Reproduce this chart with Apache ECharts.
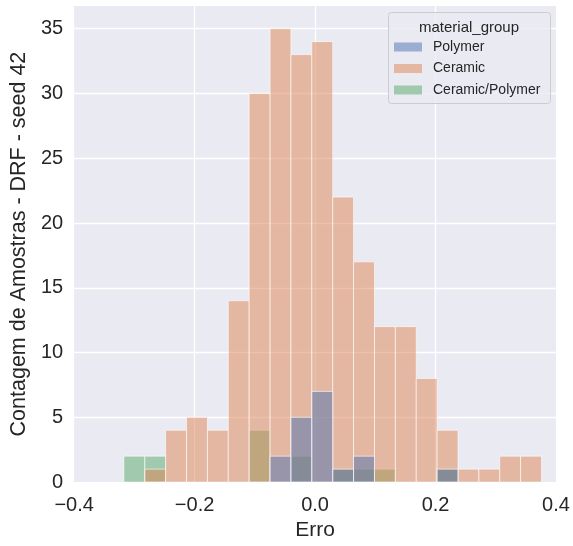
<!DOCTYPE html>
<html>
<head>
<meta charset="utf-8">
<script src="https://cdn.jsdelivr.net/npm/echarts@6/dist/echarts.min.js"></script>
<style>
  html, body { margin: 0; padding: 0; background: #fff; }
  #main { width: 573px; height: 546px; }
</style>
</head>
<body>
<div id="main"></div>
<script>
var myChart = echarts.init(document.getElementById('main'));

// bin edges (Erro), 20 bins
var binEdges = [-0.3174, -0.2827, -0.2481, -0.2134, -0.1787, -0.1441, -0.1094, -0.0747,
  -0.0401, -0.0054, 0.0293, 0.0639, 0.0986, 0.1333, 0.1680, 0.2026, 0.2373, 0.2720,
  0.3066, 0.3413, 0.3760];

var groups = ['Polymer', 'Ceramic', 'Ceramic/Polymer'];
// counts per bin
var polymer = [0, 0, 0, 0, 0, 0, 0, 2, 5, 7, 1, 2, 0, 0, 0, 1, 0, 0, 0, 0];
var ceramic = [0, 1, 4, 5, 4, 14, 30, 35, 33, 34, 22, 17, 12, 12, 8, 4, 1, 1, 2, 2];
var ceramicPolymer = [2, 2, 0, 0, 0, 0, 4, 0, 2, 0, 1, 1, 1, 0, 0, 1, 0, 0, 0, 0];

var xTicks = [-0.4, -0.2, 0.0, 0.2, 0.4];
var yTicks = [0, 5, 10, 15, 20, 25, 30, 35];

var colors = {
    'Polymer': 'rgba(76,114,176,0.5)',
    'Ceramic': 'rgba(221,132,82,0.5)',
    'Ceramic/Polymer': 'rgba(85,168,104,0.5)'
};
var font = "'Liberation Sans', Arial, sans-serif";
var textColor = '#262626';

function toBars(counts) {
    var out = [];
    for (var i = 0; i < counts.length; i++) {
        if (counts[i] > 0) out.push([binEdges[i], binEdges[i + 1], counts[i]]);
    }
    return out;
}

function histSeries(name, counts) {
    return {
        name: name,
        type: 'custom',
        clip: true,
        itemStyle: { color: colors[name] },
        encode: { x: [0, 1], y: 2 },
        data: toBars(counts),
        renderItem: function (params, api) {
            var p0 = api.coord([api.value(0), api.value(2)]);
            var p1 = api.coord([api.value(1), 0]);
            return {
                type: 'rect',
                shape: { x: p0[0], y: p0[1], width: p1[0] - p0[0], height: p1[1] - p0[1] },
                style: { fill: colors[name], stroke: 'rgba(255,255,255,0.6)', lineWidth: 1 }
            };
        }
    };
}

function fmtX(v) {
    if (Math.abs(v) < 1e-9) return '0.0';
    return v.toFixed(1).replace('-', '\u2212');
}

option = {
    backgroundColor: '#fff',
    animation: false,
    grid: { left: 72, right: 17, top: 6, bottom: 59, backgroundColor: '#EAEAF2', show: true, borderWidth: 0 },
    legend: {
        orient: 'vertical',
        left: 389,
        top: 35,
        icon: 'rect',
        itemWidth: 28,
        itemHeight: 9,
        itemGap: 7.5,
        data: groups,
        textStyle: { color: textColor, fontSize: 14, fontFamily: font, padding: [0, 0, 0, 6] }
    },
    graphic: [
        {
            type: 'rect', z: 3, left: 388, top: 12,
            shape: { width: 162, height: 91, r: 3 },
            style: { fill: 'rgba(234,234,242,0.8)', stroke: '#cccccc', lineWidth: 1 }
        },
        {
            type: 'text', z: 4, left: 419, top: 20,
            style: { text: 'material_group', fill: textColor, fontSize: 15, fontFamily: font }
        }
    ],
    xAxis: {
        type: 'value',
        min: xTicks[0],
        max: xTicks[xTicks.length - 1],
        interval: 0.2,
        name: 'Erro',
        nameLocation: 'middle',
        nameGap: 35,
        nameTextStyle: { color: textColor, fontSize: 21, fontFamily: font },
        axisLine: { show: false },
        axisTick: { show: false },
        axisLabel: { color: textColor, fontSize: 20, fontFamily: font, margin: 13, formatter: fmtX },
        splitLine: { show: true, showMinLine: false, showMaxLine: false, lineStyle: { color: '#fff', width: 1.3 } }
    },
    yAxis: {
        type: 'value',
        min: 0,
        max: 36.75,
        interval: 5,
        name: 'Contagem de Amostras - DRF - seed 42',
        nameLocation: 'middle',
        nameGap: 38,
        nameTextStyle: { color: textColor, fontSize: 21.5, fontFamily: font },
        axisLine: { show: false },
        axisTick: { show: false },
        axisLabel: {
            color: textColor, fontSize: 20, fontFamily: font, margin: 11, showMaxLabel: false,
            formatter: function (v) { return yTicks.indexOf(v) >= 0 ? String(v) : ''; }
        },
        splitLine: { show: true, showMinLine: false, showMaxLine: false, lineStyle: { color: '#fff', width: 1.3 } }
    },
    series: [
        histSeries('Ceramic/Polymer', ceramicPolymer),
        histSeries('Ceramic', ceramic),
        histSeries('Polymer', polymer)
    ]
};

myChart.setOption(option);
window.onresize = function () {
    myChart.resize();
};
</script>
</body>
</html>
